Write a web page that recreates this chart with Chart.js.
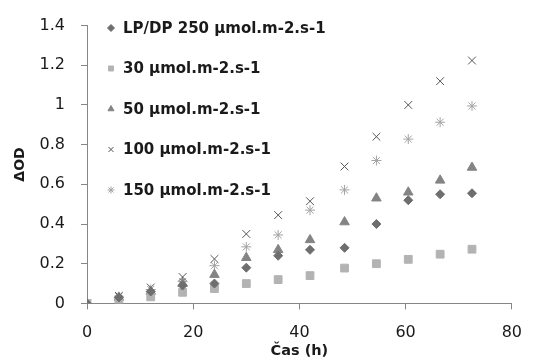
<!DOCTYPE html>
<html lang="sk">
  <head>
    <meta charset="UTF-8" />
    <title>ΔOD v čase</title>
    <script src="https://cdn.jsdelivr.net/npm/chart.js"></script>
    <style>
      body { margin: 0; background: #fff; }
      #wrap { width: 536px; height: 361px; }
    </style>
  </head>
  <body>
    <div id="wrap"><canvas id="odChart"></canvas></div>
    <script>
      // time points (h)
      const hours = [0, 6, 12, 18, 24, 30, 36, 42, 48.5, 54.5, 60.5, 66.5, 72.5];

      const labels = [
        "LP/DP 250 µmol.m-2.s-1",
        "30 µmol.m-2.s-1",
        "50 µmol.m-2.s-1",
        "100 µmol.m-2.s-1",
        "150 µmol.m-2.s-1",
      ];

      // ΔOD values
      const lpdp250 = [0, 0.03, 0.06, 0.09, 0.1, 0.18, 0.24, 0.27, 0.28, 0.4, 0.52, 0.55, 0.555];
      const uE30 = [0, 0.02, 0.033, 0.056, 0.075, 0.1, 0.12, 0.14, 0.178, 0.2, 0.222, 0.248, 0.273];
      const uE50 = [0, 0.03, 0.06, 0.1, 0.145, 0.23, 0.27, 0.32, 0.41, 0.53, 0.56, 0.62, 0.685];
      const uE100 = [0, 0.038, 0.08, 0.133, 0.224, 0.35, 0.445, 0.515, 0.69, 0.84, 1.0, 1.12, 1.224];
      const uE150 = [0, 0.033, 0.07, 0.11, 0.19, 0.285, 0.345, 0.47, 0.572, 0.72, 0.828, 0.913, 0.995];

      const xTicks = [0, 20, 40, 60, 80];
      const yTicks = [0, 0.2, 0.4, 0.6, 0.8, 1, 1.2, 1.4];

      const toPts = (ys) => hours.map((h, i) => ({ x: h, y: ys[i] }));

      const styles = [
        { pointStyle: "rectRot", color: "#6e6e6e", r: 4.5 },
        { pointStyle: "rect", color: "#b3b3b3", r: 5.5 },
        { pointStyle: "triangle", color: "#848484", r: 5.5 },
        { pointStyle: "crossRot", color: "#555555", r: 5.5 },
        { pointStyle: "star", color: "#a3a3a3", r: 5 },
      ];
      const series = [lpdp250, uE30, uE50, uE100, uE150];

      const datasets = series.map((ys, i) => ({
        label: labels[i],
        data: toPts(ys),
        showLine: false,
        pointStyle: styles[i].pointStyle,
        pointRadius: styles[i].r,
        pointHoverRadius: styles[i].r,
        pointBackgroundColor: styles[i].color,
        pointBorderColor: styles[i].color,
        pointBorderWidth: 1,
      }));

      const font = "'DejaVu Sans'";
      const textColor = "#1a1a1a";
      const axisColor = "#868686";

      // legend drawn inside the plot area, top left
      const insideLegend = {
        id: "insideLegend",
        afterDraw(chart) {
          const ctx = chart.ctx;
          ctx.save();
          ctx.font = "bold 15px " + font;
          ctx.textBaseline = "middle";
          chart.data.datasets.forEach((ds, i) => {
            const y = 28 + i * 40.5;
            ctx.fillStyle = styles[i].color;
            ctx.strokeStyle = styles[i].color;
            ctx.lineWidth = 1;
            Chart.helpers.drawPoint(ctx, { pointStyle: ds.pointStyle, radius: 3.5, borderWidth: 1 }, 111, y);
            ctx.fillStyle = textColor;
            ctx.fillText(ds.label, 123, y + 1);
          });
          ctx.restore();
        },
      };

      new Chart(document.getElementById("odChart"), {
        type: "scatter",
        data: { datasets },
        plugins: [insideLegend],
        options: {
          responsive: true,
          maintainAspectRatio: false,
          animation: false,
          layout: { autoPadding: false, padding: { top: 22, right: 5, left: 12, bottom: 1 } },
          plugins: { legend: { display: false }, tooltip: { enabled: false } },
          scales: {
            x: {
              type: "linear",
              min: 0,
              max: 80,
              afterBuildTicks: (s) => { s.ticks = xTicks.map((v) => ({ value: v })); },
              grid: { display: true, drawOnChartArea: false, drawTicks: true, tickLength: 6, color: axisColor },
              border: { color: axisColor },
              ticks: { color: textColor, font: { family: font, size: 16 }, padding: 14, maxRotation: 0 },
              title: { display: true, text: "Čas (h)", color: textColor, font: { family: font, size: 14.5, weight: "bold" }, padding: { top: -14, bottom: 0 } },
            },
            y: {
              min: 0,
              max: 1.4,
              afterBuildTicks: (s) => { s.ticks = yTicks.map((v) => ({ value: v })); },
              afterFit: (s) => { s.width = 75; },
              grid: { display: true, drawOnChartArea: false, drawTicks: true, tickLength: 6, color: axisColor },
              border: { color: axisColor },
              ticks: {
                color: textColor,
                font: { family: font, size: 16 },
                padding: 16,
                callback: (v) => String(+v.toFixed(1)),
              },
              title: { display: true, text: "ΔOD", color: textColor, font: { family: font, size: 14, weight: "bold" }, padding: { top: 0, bottom: 0 } },
            },
          },
        },
      });
    </script>
  </body>
</html>
